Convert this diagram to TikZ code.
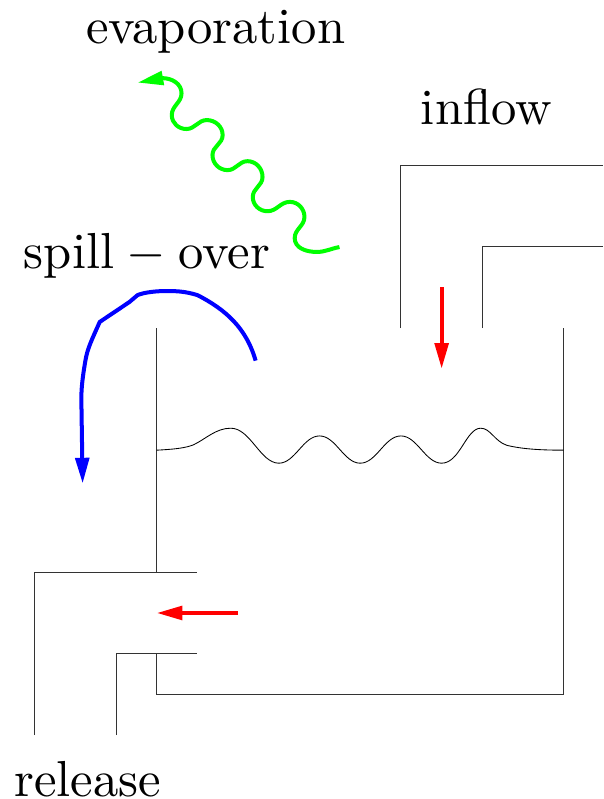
\documentclass[tikz,border=0pt]{standalone}
\usepackage{amsmath,amssymb}
\usepackage{tikz}
\usetikzlibrary{arrows.meta}
\tikzset{
  wall/.style={line width=0.7pt,black!80},
  flow/.style={line width=2.8pt,line join=round,-{Triangle[length=18pt,width=9.5pt]}},
  label/.style={anchor=base,inner sep=0pt,scale=3.54}
}
\begin{document}
\begin{tikzpicture}
\useasboundingbox (-0.85,-1.57) rectangle (13.97,18.06);
% tank and ducts
\draw[wall] (3,10) -- (3,4);
\draw[wall] (13,10) -- (13,1) -- (3,1) -- (3,2);
\draw[wall] (0,0) -- (0,4) -- (4,4);
\draw[wall] (2,0) -- (2,2) -- (4,2);
\draw[wall] (9,10) -- (9,14) -- (13.97,14);
\draw[wall] (11,10) -- (11,12) -- (13.97,12);
% water surface
\draw[line width=0.6pt] (3,7) .. controls (3.4,7.02) and (3.7,7.05) .. (3.9,7.13) .. controls (4.2,7.27) and (4.45,7.54) .. (4.82,7.54) .. controls (5.3,7.54) and (5.55,6.68) .. (6,6.68) .. controls (6.4,6.68) and (6.6,7.35) .. (7,7.35) .. controls (7.4,7.35) and (7.6,6.68) .. (8,6.68) .. controls (8.4,6.68) and (8.6,7.35) .. (9,7.35) .. controls (9.4,7.35) and (9.6,6.68) .. (10,6.68) .. controls (10.45,6.68) and (10.6,7.54) .. (10.96,7.54) .. controls (11.2,7.54) and (11.3,7.22) .. (11.6,7.12) .. controls (12,7.02) and (12.5,7) .. (13,7);
% flows
\coordinate (inA) at (10,11);
\coordinate (inB) at (10,9);
\coordinate (outA) at (5,3);
\coordinate (outB) at (3,3);
\draw[flow,red] (inA) -- (inB);
\draw[flow,red] (outA) -- (outB);
\draw[flow,blue] (5.43,9.2) .. controls (5.2,10.0) and (4.7,10.45) .. (4,10.81) .. controls (3.7,10.9) and (3.5,10.91) .. (3.24,10.91) .. controls (3,10.91) and (2.7,10.88) .. (2.53,10.81) -- (2.33,10.64) -- (1.6,10.15) .. controls (1.4,9.7) and (1.3,9.5) .. (1.25,9.21) .. controls (1.18,8.8) and (1.14,8.5) .. (1.15,8.16) -- (1.18,6.18);
\draw[flow,green] (7.49,11.99) to[out=190,in=0] (6.93,11.87) to[out=180,in=270] (6.39,12.21) to[out=90,in=270] (6.63,12.73) to[out=90,in=0] (6.27,13.10) to[out=180,in=0] (5.72,12.87) to[out=180,in=270] (5.36,13.22) to[out=90,in=270] (5.6,13.71) to[out=90,in=0] (5.23,14.1) to[out=180,in=0] (4.74,13.88) to[out=180,in=270] (4.37,14.25) to[out=90,in=270] (4.62,14.74) to[out=90,in=0] (4.23,15.11) to[out=180,in=0] (3.73,14.89) to[out=180,in=270] (3.37,15.23) to[out=90,in=270] (3.61,15.77) to[out=90,in=0] (3.14,16.14) -- (2.53,16.03);
% labels
\node[label] (evap) at (4.45,17) {evaporation};
\node[label] (inflow) at (11.1,15) {inflow};
\node[label] (spill) at (2.76,11.47) {spill\hspace{-0.9pt} $-$ \hspace{-0.9pt}over};
\node[label] (release) at (1.3,-1.5) {release};
\end{tikzpicture}
\end{document}
